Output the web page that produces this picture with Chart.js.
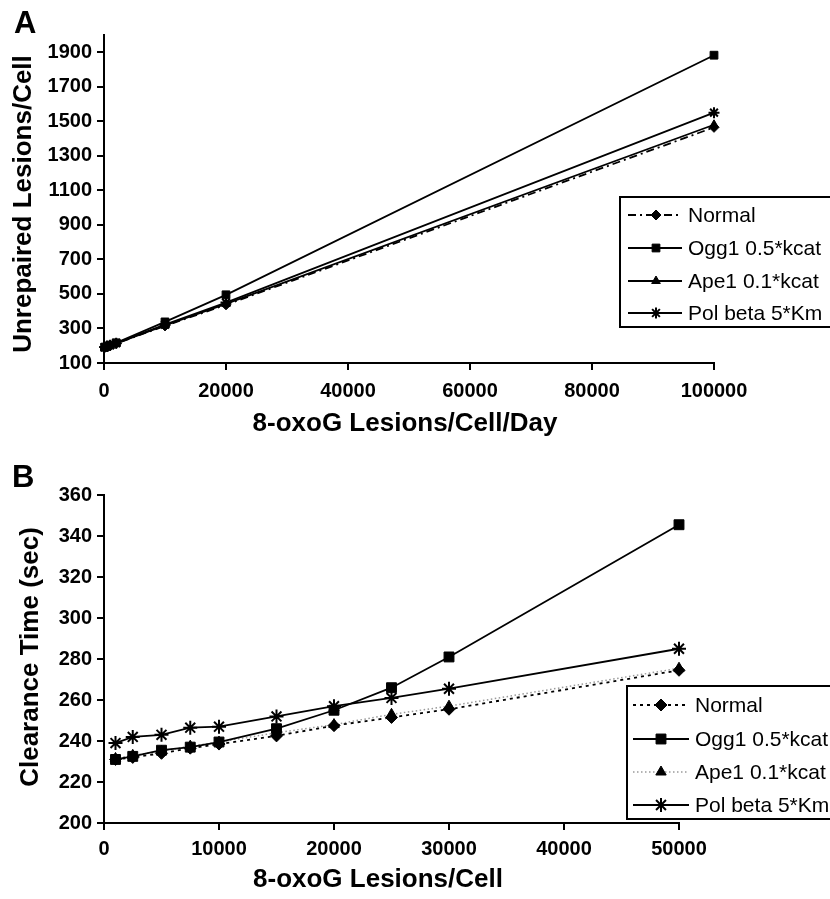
<!DOCTYPE html>
<html>
<head>
<meta charset="utf-8">
<script src="https://cdn.jsdelivr.net/npm/chart.js@4.4.0/dist/chart.umd.min.js"></script>
<style>
  html, body { margin: 0; padding: 0; background: #fff; }
  #wrap { position: relative; width: 830px; height: 899px; overflow: hidden; background: #fff; }
  canvas { position: absolute; left: 0; }
  #cA { top: 0; }
  #cB { top: 450px; }
</style>
</head>
<body>
<div id="wrap">
  <canvas id="cA" width="830" height="450"></canvas>
  <canvas id="cB" width="830" height="449"></canvas>
</div>
<script>
// ---------- Data ----------
const seriesNames = ['Normal', 'Ogg1 0.5*kcat', 'Ape1 0.1*kcat', 'Pol beta 5*Km'];

// Panel A: 8-oxoG Lesions/Cell/Day vs Unrepaired Lesions/Cell
const xA      = [100, 500, 1000, 2000, 10000, 20000, 100000];
const normalA = [190, 195, 201, 213, 315, 437, 1465];
const ogg1A   = [191, 197, 204, 217, 338, 495, 1883];
const ape1A   = [190, 196, 202, 214, 318, 443, 1480];
const polA    = [192, 197, 203, 215, 322, 450, 1550];
const yTicksA = [100, 300, 500, 700, 900, 1100, 1300, 1500, 1700, 1900];
const xTicksA = [0, 20000, 40000, 60000, 80000, 100000];

// Panel B: 8-oxoG Lesions/Cell vs Clearance Time (sec)
const xB      = [1000, 2500, 5000, 7500, 10000, 15000, 20000, 25000, 30000, 50000];
const normalB = [231, 232, 234, 236.5, 238.5, 242.5, 247.5, 251.5, 255.5, 274.5];
const ogg1B   = [231, 232.5, 235.5, 237, 239.5, 246, 255, 266, 281, 345.5];
const ape1B   = [231.5, 233, 235, 237.5, 239.5, 244, 248, 253, 257, 275.5];
const polB    = [239, 242, 243, 246.5, 247, 252, 257, 261, 265.5, 285];
const yTicksB = [200, 220, 240, 260, 280, 300, 320, 340, 360];
const xTicksB = [0, 10000, 20000, 30000, 40000, 50000];

// ---------- Helpers ----------
const FONT = "'Liberation Sans', Arial, Helvetica, sans-serif";
const pts = (xs, ys) => xs.map((x, i) => ({ x: x, y: ys[i] }));

function mk(label, xs, ys, st) {
  return Object.assign({
    label: label,
    data: pts(xs, ys),
    borderColor: '#000',
    backgroundColor: '#000',
    borderWidth: 1.8,
    pointBackgroundColor: '#000',
    pointBorderColor: '#000',
    pointBorderWidth: 1,
    tension: 0,
    clip: false
  }, st);
}

function drawMarker(ctx, style, r, x, y, bw) {
  ctx.save();
  ctx.fillStyle = '#000';
  ctx.strokeStyle = '#000';
  ctx.lineWidth = bw;
  ctx.setLineDash([]);
  if (Chart.helpers && Chart.helpers.drawPoint) {
    Chart.helpers.drawPoint(ctx, { pointStyle: style, radius: r, rotation: 0, borderWidth: bw }, x, y);
  } else {
    ctx.beginPath(); ctx.arc(x, y, r, 0, Math.PI * 2); ctx.fill();
  }
  ctx.restore();
}

const decorPlugin = {
  id: 'decor',
  afterDraw(chart, args, opts) {
    const ctx = chart.ctx;
    ctx.save();
    // panel letter
    ctx.fillStyle = '#000';
    ctx.font = 'bold 31px ' + FONT;
    ctx.textAlign = 'left';
    ctx.textBaseline = 'alphabetic';
    ctx.fillText(opts.letter.t, opts.letter.x, opts.letter.y);
    // x title
    ctx.font = 'bold 26px ' + FONT;
    ctx.textAlign = 'center';
    ctx.textBaseline = 'middle';
    ctx.fillText(opts.xTitle.t, opts.xTitle.x, opts.xTitle.y);
    // y title
    ctx.save();
    ctx.translate(opts.yTitle.x, opts.yTitle.y);
    ctx.rotate(-Math.PI / 2);
    ctx.fillText(opts.yTitle.t, 0, 0);
    ctx.restore();
    // legend
    const L = opts.legend;
    ctx.fillStyle = '#fff';
    ctx.fillRect(L.x, L.y, L.w, L.h);
    ctx.strokeStyle = '#000';
    ctx.lineWidth = 2;
    ctx.setLineDash([]);
    ctx.strokeRect(L.x, L.y, L.w, L.h);
    ctx.font = '21px ' + FONT;
    ctx.textAlign = 'left';
    ctx.textBaseline = 'middle';
    chart.data.datasets.forEach((ds, i) => {
      const y = L.rows[i];
      ctx.save();
      ctx.strokeStyle = ds.borderColor;
      ctx.lineWidth = ds.borderWidth;
      ctx.setLineDash(ds.borderDash || []);
      ctx.beginPath();
      ctx.moveTo(L.x1, y);
      ctx.lineTo(L.x2, y);
      ctx.stroke();
      ctx.restore();
      drawMarker(ctx, ds.pointStyle, ds.pointRadius, L.mx, y, ds.pointBorderWidth);
      ctx.fillStyle = '#000';
      ctx.fillText(ds.label, L.tx, y + 1);
    });
    ctx.restore();
  }
};

function axisCommon(extra) {
  return Object.assign({
    type: 'linear',
    border: { display: true, color: '#000', width: 2 },
    grid: { display: true, drawOnChartArea: false, drawTicks: true, tickLength: 7, color: '#000', lineWidth: 2 },
  }, extra);
}

function makeChart(id, cfg) {
  const yTicks = cfg.yTicks, xTicks = cfg.xTicks;
  return new Chart(document.getElementById(id), {
    type: 'line',
    data: { datasets: cfg.datasets },
    options: {
      responsive: false,
      animation: false,
      devicePixelRatio: 1,
      layout: { padding: cfg.padding },
      plugins: {
        legend: { display: false },
        tooltip: { enabled: false },
        decor: cfg.decor
      },
      scales: {
        x: axisCommon({
          min: cfg.xMin, max: cfg.xMax,
          afterBuildTicks: s => { s.ticks = xTicks.map(v => ({ value: v })); },
          afterFit: s => { s.height = cfg.xAxisH; },
          ticks: { color: '#000', font: { family: FONT, size: 20, weight: 'bold' }, padding: cfg.xPad,
                   autoSkip: false, maxRotation: 0, callback: v => String(v) }
        }),
        y: axisCommon({
          min: cfg.yMin, max: cfg.yMax,
          afterBuildTicks: s => { s.ticks = yTicks.map(v => ({ value: v })); },
          afterFit: s => { s.width = cfg.yAxisW; },
          ticks: { color: '#000', font: { family: FONT, size: 20, weight: 'bold' }, padding: 5,
                   callback: v => String(v) }
        })
      }
    },
    plugins: [decorPlugin]
  });
}

// ---------- Panel A ----------
makeChart('cA', {
  xMin: 0, xMax: 100000, yMin: 100, yMax: 2000,
  xTicks: xTicksA, yTicks: yTicksA, xPad: 9,
  padding: { left: 0, top: 35, right: 116, bottom: 0 },
  yAxisW: 104, xAxisH: 87,
  datasets: [
    mk(seriesNames[0], xA, normalA, { borderDash: [8, 4, 2, 4], pointStyle: 'rectRot', pointRadius: 5 }),
    mk(seriesNames[1], xA, ogg1A,   { pointStyle: 'rect', pointRadius: 5.5 }),
    mk(seriesNames[2], xA, ape1A,   { pointStyle: 'triangle', pointRadius: 5 }),
    mk(seriesNames[3], xA, polA,    { pointStyle: 'star', pointRadius: 5.5, pointBorderWidth: 2 })
  ],
  decor: {
    letter: { t: 'A', x: 14, y: 33 },
    xTitle: { t: '8-oxoG Lesions/Cell/Day', x: 405, y: 424 },
    yTitle: { t: 'Unrepaired Lesions/Cell', x: 24, y: 204 },
    legend: { x: 620, y: 197, w: 240, h: 130, rows: [215, 248, 281, 313],
              x1: 628, x2: 682, mx: 656, tx: 688 }
  }
});

// ---------- Panel B ----------
makeChart('cB', {
  xMin: 0, xMax: 50000, yMin: 200, yMax: 360,
  xTicks: xTicksB, yTicks: yTicksB, xPad: 7,
  padding: { left: 0, top: 45, right: 151, bottom: 0 },
  yAxisW: 104, xAxisH: 76,
  datasets: [
    mk(seriesNames[0], xB, normalB, { borderDash: [3, 4], pointStyle: 'rectRot', pointRadius: 6 }),
    mk(seriesNames[1], xB, ogg1B,   { pointStyle: 'rect', pointRadius: 7 }),
    mk(seriesNames[2], xB, ape1B,   { borderColor: '#9a9a9a', borderDash: [1.5, 2.5], borderWidth: 1.5, pointStyle: 'triangle', pointRadius: 6 }),
    mk(seriesNames[3], xB, polB,    { pointStyle: 'star', pointRadius: 7, pointBorderWidth: 2 })
  ],
  decor: {
    letter: { t: 'B', x: 12, y: 37 },
    xTitle: { t: '8-oxoG Lesions/Cell', x: 378, y: 430 },
    yTitle: { t: 'Clearance Time (sec)', x: 31, y: 207 },
    legend: { x: 627, y: 236, w: 240, h: 133, rows: [255, 289, 322, 355],
              x1: 633, x2: 689, mx: 661, tx: 695 }
  }
});
</script>
</body>
</html>
